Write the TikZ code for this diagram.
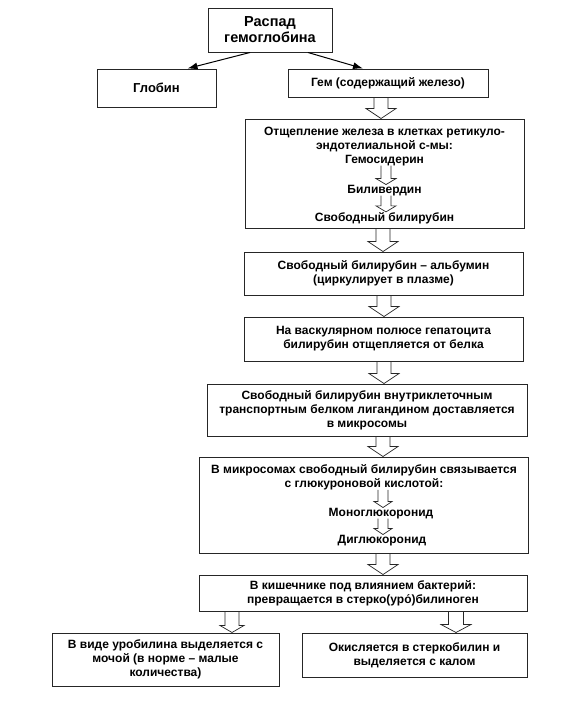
\documentclass[tikz,border=0pt]{standalone}
\usepackage{fontspec}
\setmainfont{Liberation Sans}
\usetikzlibrary{arrows.meta,calc}
\newcommand\hollowarrow[6]{%
  \draw[harrowline] let \p1=(#1), \p2=(#2) in
    (#3pt-#4pt,\y1) -- (#3pt-#4pt,\y2+#6pt) -- (#3pt-#5pt,\y2+#6pt) -- (#3pt,\y2)
    -- (#3pt+#5pt,\y2+#6pt) -- (#3pt+#4pt,\y2+#6pt) -- (#3pt+#4pt,\y1);}
\begin{document}
\begin{tikzpicture}[x=1pt,y=-1pt,
  box/.style={draw=black!85, line width=1pt, inner sep=0pt, align=center,
    font=\bfseries\fontsize{12}{14}\selectfont},
  txt/.style={inner sep=0pt, align=center, font=\bfseries\fontsize{12}{14}\selectfont},
  thinarrow/.style={line width=1pt, -{Latex[length=10pt,width=7pt]}},
  harrowline/.style={draw=black!85, line width=0.7pt, line join=miter}]
\useasboundingbox (0,0) rectangle (566,713);
\fill[white] (0,0) rectangle (566,713);

\node[box, minimum width=124pt, minimum height=44pt,
  font=\bfseries\fontsize{14.5}{16}\selectfont] (top) at (270,30) {Распад\\гемоглобина};
\node[box, minimum width=119pt, minimum height=38pt,
  font=\bfseries\fontsize{13}{15}\selectfont] (glob) at (156.5,88) {Глобин};
\node[box, minimum width=200pt, minimum height=28pt] (gem) at (388,83) {Гем (содержащий железо)};

\node[box, minimum width=279pt, minimum height=109pt] (b2) at (384.5,173.5) {};
\node[txt, anchor=north] (b2a) at (384.5,127) {Отщепление железа в клетках ретикуло-\\эндотелиальной с-мы:};
\node[txt, anchor=base] (b2b) at (384.5,163) {Гемосидерин};
\node[txt, anchor=base] (b2c) at (384.5,193) {Биливердин};
\node[txt, anchor=base] (b2d) at (384.5,221) {Свободный билирубин};

\node[box, minimum width=279pt, minimum height=43pt] (b3) at (383.5,273.5)
  {Свободный билирубин – альбумин\\(циркулирует в плазме)};
\node[box, minimum width=279pt, minimum height=44pt] (b4) at (383.5,339)
  {На васкулярном полюсе гепатоцита\\билирубин отщепляется от белка};
\node[box, minimum width=320pt, minimum height=52pt] (b5) at (367,410)
  {Свободный билирубин внутриклеточным\\транспортным белком лигандином доставляется\\в микросомы};

\node[box, minimum width=329pt, minimum height=96pt] (b6) at (363.5,505) {};
\node[txt, anchor=north] (b6a) at (364,464) {В микросомах свободный билирубин связывается\\с глюкуроновой кислотой:};
\node[txt, anchor=base] (b6b) at (381,516) {Моноглюкоронид};
\node[txt, anchor=base] (b6c) at (382,543) {Диглюкоронид};

\node[box, minimum width=328pt, minimum height=36pt] (b7) at (363,593)
  {В кишечнике под влиянием бактерий:\\превращается в стерко(уро́)билиноген};
\node[box, minimum width=227pt, minimum height=53pt] (b8a) at (165.5,659.5)
  {В виде уробилина выделяется с\\мочой (в норме – малые\\количества)};
\node[box, minimum width=225pt, minimum height=44pt] (b8b) at (414.5,655)
  {Окисляется в стеркобилин и\\выделяется с калом};

\draw[thinarrow] ($(top.south)+(-20,0)$) -- ($(glob.north)+(31,0)$);
\draw[thinarrow] ($(top.south)+(38,0)$) -- ($(gem.north)+(-25,0)$);

\hollowarrow{gem.south}{b2.north}{381}{7}{15}{10}
\hollowarrow{b2.south}{b3.north}{383}{7}{15}{10}
\hollowarrow{b3.south}{b4.north}{384}{7}{15}{10}
\hollowarrow{b4.south}{b5.north}{384}{7}{15}{10}
\hollowarrow{b5.south}{b6.north}{383}{7}{15}{10}
\hollowarrow{b6.south}{b7.north}{383}{7}{15}{10}
\hollowarrow{b7.south}{b8a.north}{232}{7}{12}{7}
\hollowarrow{b7.south}{b8b.north}{456}{7.5}{15}{8}

\hollowarrow{b2b.south}{b2c.north}{386}{5}{10}{6}
\hollowarrow{b2c.south}{b2d.north}{386}{5}{10}{6}
\hollowarrow{b6a.south}{b6b.north}{383}{5}{9}{6}
\hollowarrow{b6b.south}{b6c.north}{383}{5}{9}{6}
\end{tikzpicture}
\end{document}
